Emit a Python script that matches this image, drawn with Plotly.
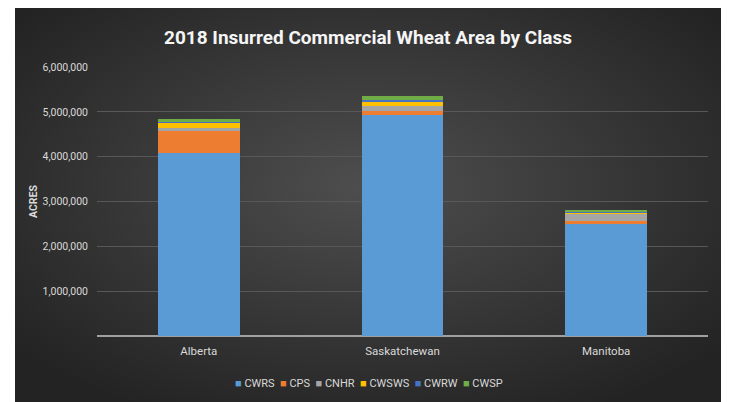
import base64
import plotly.graph_objects as go

provinces = ["Alberta", "Saskatchewan", "Manitoba"]
classes = ["CWRS", "CPS", "CNHR", "CWSWS", "CWRW", "CWSP"]
values = {
    "CWRS":  [4080000, 4930000, 2500000],
    "CPS":   [500000, 90000, 60000],
    "CNHR":  [70000, 100000, 180000],
    "CWSWS": [120000, 120000, 5000],
    "CWRW":  [20000, 20000, 40000],
    "CWSP":  [40000, 100000, 20000],
}
colors = {
    "CWRS": "#5b9bd5",
    "CPS": "#ed7d31",
    "CNHR": "#a5a5a5",
    "CWSWS": "#ffc000",
    "CWRW": "#4472c4",
    "CWSP": "#70ad47",
}
y_ticks = [1000000, 2000000, 3000000, 4000000, 5000000, 6000000]

fig = go.Figure()
for c in classes:
    fig.add_trace(go.Bar(
        name=c, x=provinces, y=values[c],
        marker=dict(color=colors[c], line=dict(width=0)),
        showlegend=False,
    ))

svg = ('<svg xmlns="http://www.w3.org/2000/svg" width="706" height="394" viewBox="0 0 706 394">'
       '<defs><radialGradient id="g" cx="50%" cy="45%" r="65%">'
       '<stop offset="0%" stop-color="#4e4e4e"/>'
       '<stop offset="100%" stop-color="#232323"/>'
       '</radialGradient></defs>'
       '<rect width="706" height="394" fill="url(#g)"/></svg>')
src = "data:image/svg+xml;base64," + base64.b64encode(svg.encode()).decode()

L, R, T, B = 97, 29, 67, 66
W, H = 737, 402
pw, ph = W - L - R, H - T - B

def px_to_paper_x(px):
    return (px - L) / pw

def px_to_paper_y(py):
    return (H - B - py) / ph

x0, x1 = px_to_paper_x(15), px_to_paper_x(721)
y1, y0 = px_to_paper_y(8), px_to_paper_y(402)

fig.add_layout_image(dict(
    source=src, xref="paper", yref="paper",
    x=x0, y=y1, sizex=x1 - x0, sizey=y1 - y0,
    xanchor="left", yanchor="top", sizing="stretch", layer="below",
))

FONT = "Roboto, Open Sans, sans-serif"

# Legend drawn as one annotation, built from the class names and colours
legend_text = "&#160;&#160;".join(
    f'<span style="color:{colors[c]}">■</span>&#160;{c}' for c in classes
)
fig.add_annotation(
    text=legend_text, xref="paper", yref="paper",
    x=px_to_paper_x(369), y=px_to_paper_y(383),
    xanchor="center", yanchor="middle", showarrow=False,
    font=dict(family=FONT, size=11, color="#d9d9d9"),
)

fig.update_layout(
    width=W, height=H,
    margin=dict(l=L, r=R, t=T, b=B, autoexpand=False),
    paper_bgcolor="white",
    plot_bgcolor="rgba(0,0,0,0)",
    barmode="stack",
    bargap=0.6,
    title=dict(
        text="<b>2018 Insurred Commercial Wheat Area by Class</b>",
        x=px_to_paper_x(368), xref="paper", xanchor="center",
        y=1 - 37 / H, yref="container", yanchor="middle",
        font=dict(family=FONT, size=19, color="#f5f5f5"),
    ),
    font=dict(family=FONT, size=11, color="#d9d9d9"),
    xaxis=dict(
        showgrid=False, showline=False, ticks="",
        tickfont=dict(size=11.5, color="#d9d9d9"),
        zeroline=False, ticklabelstandoff=6,
    ),
    yaxis=dict(
        range=[0, 6000000], tickvals=y_ticks, tickformat=",d",
        showgrid=True, gridcolor="#585858", gridwidth=1,
        zeroline=True, zerolinecolor="#a0a0a0", zerolinewidth=1.5,
        showline=False, ticks="", ticklabelstandoff=8,
        tickfont=dict(size=10.5, color="#d9d9d9"),
        title=dict(text="<b>ACRES</b>", font=dict(size=10.5, color="#d9d9d9"), standoff=2),
    ),
    showlegend=False,
)

fig.write_html("out.html")
